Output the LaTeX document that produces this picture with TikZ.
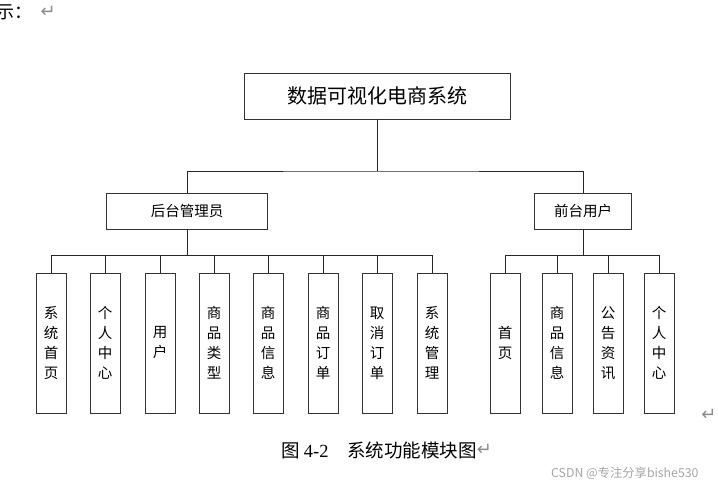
\documentclass[tikz,border=0pt]{standalone}
\usepackage{fontspec}
\setmainfont{Noto Sans CJK SC}
\newfontfamily\serifnum{Liberation Serif}
\newfontfamily\symfont{DejaVu Sans}
\usetikzlibrary{calc, positioning}

\begin{document}
\begin{tikzpicture}[x=1pt,y=-1pt,
  box/.style={draw=black!80, line width=0.9pt, fill=white, inner sep=0pt},
  leaf/.style={box, minimum width=30pt, minimum height=140pt,
    font=\fontsize{14.5}{20}\selectfont, align=center},
  link/.style={draw=black!85, line width=0.8pt},
  retmark/.style={text=black!45, font=\symfont\fontsize{18}{18}\selectfont, inner sep=0pt}]
\useasboundingbox (0,0) rectangle (719,487);
% Root and the two branches
\node[box, minimum width=266pt, minimum height=46pt,
  font=\fontsize{20}{20}\selectfont] (sys) at (377,96) {数据可视化电商系统};
\node[box, minimum width=161pt, minimum height=36pt,
  font=\fontsize{14.5}{14.5}\selectfont] (admin) at (187,211) {后台管理员};
\node[box, minimum width=97pt, minimum height=36pt,
  font=\fontsize{14.5}{14.5}\selectfont] (user) at (583,211) {前台用户};
% Leaves of the admin side
\foreach \x/\t [count=\i] in {51/系\\统\\首\\页, 105/个\\人\\中\\心, 160/用\\户,
    214/商\\品\\类\\型, 268/商\\品\\信\\息, 323/商\\品\\订\\单,
    377/取\\消\\订\\单, 432/系\\统\\管\\理}
  \node[leaf] (a\i) at (\x,343) {\t};
% Leaves of the user side
\foreach \x/\t [count=\i] in {505/首\\页, 557/商\\品\\信\\息,
    608/公\\告\\资\\讯, 659/个\\人\\中\\心}
  \node[leaf] (u\i) at (\x,343) {\t};
% Buses
\coordinate (bus) at (377,171);
\coordinate (abus) at (187,255);
\coordinate (ubus) at (583,255);
\draw[link] (sys.south) -- (bus);
\draw[link] (admin.north) |- (bus) -| (user.north);
\draw[link] (admin.south) -- (abus);
\draw[link] (user.south) -- (ubus);
\foreach \i in {1,...,8}
  \draw[link] (abus) -| (a\i.north);
\foreach \i in {1,...,4}
  \draw[link] (ubus) -| (u\i.north);
% Surrounding text of the page
\node[anchor=west, inner sep=0pt, font=\fontsize{18}{18}\selectfont] (intro) at (-4,12) {示：};
\node[retmark, anchor=west] (introret) at ([xshift=8pt]intro.east) {↵};
\node[anchor=west, inner sep=0pt, font=\fontsize{18.5}{18.5}\selectfont] (cap) at (281,450)
  {图 {\serifnum 4-2}\quad 系统功能模块图};
\node[retmark, anchor=west] (capret) at (cap.east) {↵};
\node[retmark] (sideret) at (709,415) {↵};
\node[anchor=west, inner sep=0pt, text=black!35,
  font=\fontsize{12.3}{12.3}\selectfont] (wm) at (551,473) {CSDN @专注分享bishe530};
\end{tikzpicture}
\end{document}
